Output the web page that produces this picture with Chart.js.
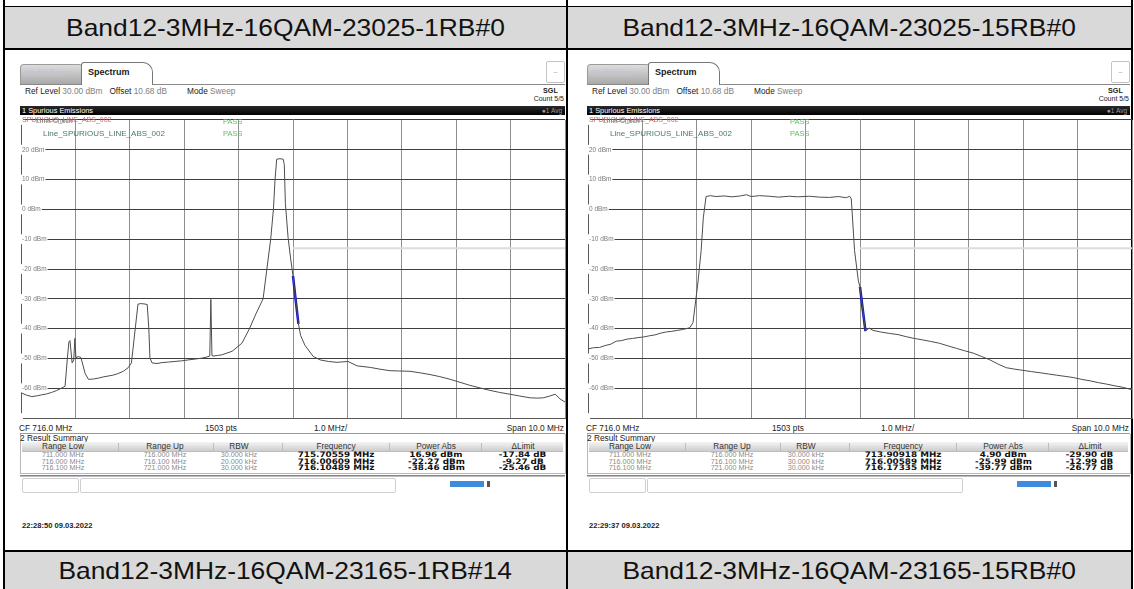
<!DOCTYPE html>
<html><head><meta charset="utf-8">
<script src="https://cdn.jsdelivr.net/npm/chart.js@4.4.1/dist/chart.umd.min.js"></script>
<style>
html,body{margin:0;padding:0;background:#fff;}
body{width:1134px;height:589px;position:relative;overflow:hidden;font-family:"Liberation Sans",Arial,sans-serif;}
.a{position:absolute;white-space:nowrap;}
.blk{position:absolute;background:#000;}
.ttl{position:absolute;text-align:center;font-family:"Liberation Sans",Arial,sans-serif;font-size:24px;color:#111;}
.ttl span{display:inline-block;transform:scaleX(1.1);}
.sm{font-size:8.3px;color:#222;line-height:10px;}
.g{color:#808080;}
.hd{font-size:8.3px;color:#333;text-align:center;line-height:9px;}
.lo{font-size:7.2px;color:#8a8a8a;text-align:center;line-height:7px;}
.bd{font-family:"DejaVu Sans",sans-serif;font-weight:bold;font-size:7.6px;color:#111;text-align:center;line-height:7px;}
.bd span{display:inline-block;transform:scaleX(1.16);}
</style>
</head><body>
<script>
// ---------- data ----------
const titlesTop = ['Band12-3MHz-16QAM-23025-1RB#0', 'Band12-3MHz-16QAM-23025-15RB#0'];
const titlesBottom = ['Band12-3MHz-16QAM-23165-1RB#14', 'Band12-3MHz-16QAM-23165-15RB#0'];
const timestamps = ['22:28:50 09.03.2022', '22:29:37 09.03.2022'];
const yTickValues = [30, 20, 10, 0, -10, -20, -30, -40, -50, -60, -70];
const xGridFreqs = [711, 712, 713, 714, 715, 716, 717, 718, 719, 720, 721];

const summaryHeaders = ['Range Low', 'Range Up', 'RBW', 'Frequency', 'Power Abs', '\u0394Limit'];
const rangeLow = ['711.000 MHz', '716.000 MHz', '716.100 MHz'];
const rangeUp = ['716.000 MHz', '716.100 MHz', '721.000 MHz'];
const rbwA = ['30.000 kHz', '20.000 kHz', '30.000 kHz'];
const rbwB = ['30.000 kHz', '30.000 kHz', '30.000 kHz'];
const peakFreqA = ['715.70559 MHz', '716.00609 MHz', '716.10489 MHz'];
const peakPowA = ['16.96 dBm', '-22.27 dBm', '-38.46 dBm'];
const deltaA = ['-17.84 dB', '-9.27 dB', '-25.46 dB'];
const peakFreqB = ['713.90918 MHz', '716.00589 MHz', '716.17335 MHz'];
const peakPowB = ['4.90 dBm', '-25.99 dBm', '-39.77 dBm'];
const deltaB = ['-29.90 dB', '-12.99 dB', '-26.77 dB'];

const limitFreq = [716.0, 721.0];
const limitPow = [-13, -13];

// trace A (1RB#0)
const freqA = [711.00,711.10,711.20,711.30,711.38,711.47,711.56,711.65,711.75,711.81,711.85,711.88,711.90,711.94,711.97,711.99,712.01,712.05,712.10,712.18,712.24,712.33,712.42,712.51,712.60,712.69,712.78,712.88,712.97,713.03,713.10,713.15,713.20,713.26,713.32,713.35,713.37,713.41,713.50,713.59,713.71,713.83,713.95,714.07,714.20,714.32,714.40,714.47,714.49,714.51,714.53,714.61,714.69,714.88,715.06,715.20,715.32,715.45,715.52,715.59,715.64,715.67,715.70,715.76,715.82,715.84,715.86,715.91,715.96,716.00,716.05,716.10,716.14,716.22,716.37,716.50,716.65,716.81,717.01,717.18,717.42,717.60,717.78,717.96,718.15,718.33,718.52,718.70,718.89,719.07,719.25,719.44,719.62,719.80,719.99,720.17,720.36,720.50,720.60,720.72,720.82,720.91,721.00];
const powA = [-61.5,-62.3,-62.8,-62.5,-62.2,-61.9,-61.4,-60.8,-59.9,-59.3,-50.5,-44.5,-44.0,-51.5,-50.5,-43.3,-49.7,-49.4,-49.6,-55.1,-57.0,-56.9,-56.6,-56.2,-55.9,-55.6,-55.1,-54.3,-53.1,-51.5,-40.0,-31.8,-31.6,-31.7,-31.9,-40.0,-49.8,-51.5,-51.7,-51.4,-51.2,-51.0,-50.8,-50.5,-50.2,-49.9,-49.6,-49.2,-30.2,-49.0,-49.2,-49.0,-48.8,-47.6,-44.9,-40.0,-35.0,-30.0,-20.0,-10.0,0.0,10.0,16.8,17.0,16.8,15.0,2.0,-9.5,-17.0,-22.3,-30.5,-38.4,-42.3,-45.6,-49.3,-50.5,-51.0,-51.3,-51.0,-52.5,-53.0,-53.6,-54.1,-54.2,-54.3,-54.8,-55.4,-56.1,-57.0,-58.0,-59.0,-59.9,-60.7,-61.4,-62.0,-62.6,-63.2,-63.3,-63.2,-62.6,-62.0,-63.6,-64.6];
const blueFreqA = [716.00, 716.05, 716.10];
const bluePowA = [-22.3, -30.5, -38.4];

// trace B (15RB#0)
const freqB = [711.00,711.10,711.21,711.33,711.42,711.52,711.62,711.72,711.82,711.92,712.02,712.13,712.23,712.34,712.44,712.54,712.64,712.74,712.87,712.93,713.02,713.08,713.12,713.17,713.25,713.35,713.50,713.65,713.80,713.91,714.00,714.15,714.33,714.50,714.70,714.85,715.07,715.25,715.44,715.60,715.75,715.81,715.84,715.90,715.97,716.00,716.05,716.10,716.17,716.24,716.40,716.54,716.70,716.85,717.00,717.16,717.30,717.46,717.62,717.77,717.92,718.08,718.23,718.38,718.54,718.69,718.85,719.00,719.15,719.31,719.46,719.61,719.77,719.92,720.07,720.23,720.38,720.53,720.69,720.84,721.00];
const powB = [-46.8,-46.4,-46.3,-45.6,-45.2,-44.2,-44.0,-43.5,-43.3,-43.0,-42.8,-42.4,-42.1,-41.5,-41.1,-40.9,-40.6,-40.3,-39.7,-38.0,-24.7,-13.8,-2.8,4.3,4.6,4.3,4.5,4.2,4.5,4.9,4.3,4.6,4.4,4.1,4.4,4.2,4.4,4.1,4.0,4.3,3.9,4.4,3.5,-13.8,-24.0,-26.0,-33.5,-40.8,-39.8,-40.6,-41.2,-41.6,-42.0,-42.7,-43.3,-43.8,-44.3,-44.9,-45.8,-46.6,-47.4,-48.2,-49.3,-50.4,-51.9,-53.1,-53.6,-54.0,-54.4,-54.8,-55.2,-55.6,-56.0,-56.4,-57.0,-57.5,-58.1,-58.6,-59.2,-59.7,-60.5];
const blueFreqB = [716.00, 716.05, 716.10];
const bluePowB = [-26.0, -33.5, -40.8];

// ---------- page frame ----------
function el(cls, css, text, parent) {
  const d = document.createElement('div');
  d.className = cls;
  d.style.cssText = css;
  if (text !== undefined) d.textContent = text;
  (parent || document.body).appendChild(d);
  return d;
}
function elS(cls, css, text) {
  const d = el(cls, css);
  const s = document.createElement('span'); s.textContent = text; d.appendChild(s);
  return d;
}
el('a', 'left:5px;top:7px;width:1126px;height:41px;background:#d9d9d9;');
el('a', 'left:5px;top:552px;width:1126px;height:37px;background:#d9d9d9;');
el('blk', 'left:3px;top:6px;width:1130px;height:1px;');
el('blk', 'left:3px;top:48px;width:1130px;height:2px;');
el('blk', 'left:3px;top:550px;width:1130px;height:2px;');
el('blk', 'left:3px;top:0;width:2px;height:589px;');
el('blk', 'left:566px;top:0;width:2px;height:589px;');
el('blk', 'left:1131px;top:0;width:2px;height:589px;');

const colX = [5, 568];
const colW = [561, 563];
for (let i = 0; i < 2; i++) {
  elS('ttl', `left:${colX[i]}px;top:7px;width:${colW[i]}px;height:41px;line-height:42px;`, titlesTop[i]);
  elS('ttl', `left:${colX[i]}px;top:552px;width:${colW[i]}px;height:37px;line-height:38px;`, titlesBottom[i]);
}

// ---------- screenshot panels ----------
function panel(ox, re, idx, rbw, pf, pp, dl, freq, pow, bf, bp) {
  // re = right edge x of the screenshot content
  el('a', `left:${ox+20}px;top:64px;width:61px;height:19px;background:linear-gradient(#dcdcdc,#a9a9a9);border:1px solid #9a9a9a;border-bottom:none;border-radius:4px 4px 0 0;`);
  el('a', `left:${ox+26}px;top:68px;font-size:8.5px;font-weight:bold;color:#c9c3d3;`, 'MultiView');
  el('a', `left:${ox+20}px;top:84px;width:${re-ox-20}px;height:1px;background:#8a8a8a;`);
  el('a', `left:${ox+81}px;top:62px;width:70px;height:22px;background:#fff;border:1px solid #777;border-bottom:none;border-radius:3px 10px 0 0;`);
  el('a', `left:${ox+88}px;top:67px;font-size:9px;font-weight:bold;color:#1a1a1a;`, 'Spectrum');
  el('a', `left:${re-19}px;top:61px;width:17px;height:20px;border:1px solid #c4c4c4;border-radius:2px;font-size:7px;color:#aaa;text-align:center;line-height:20px;`, '\u2013');
  const info = el('a sm', `left:${ox+25}px;top:86px;`);
  info.innerHTML = 'Ref Level <span class="g">30.00 dBm</span>&nbsp;&nbsp;&nbsp;Offset <span class="g">10.68 dB</span>';
  const mode = el('a sm', `left:${ox+187}px;top:86px;`);
  mode.innerHTML = 'Mode <span class="g">Sweep</span>';
  el('a sm', `left:${re-22}px;top:86px;font-weight:bold;font-size:7.2px;`, 'SGL');
  el('a sm', `left:${re-66}px;top:94px;width:65px;text-align:right;font-size:7px;`, 'Count 5/5');
  // black title bar
  el('a', `left:${ox+20}px;top:106px;width:${re-ox-20}px;height:9px;background:linear-gradient(#2a2a2a,#000);`);
  el('a', `left:${ox+22}px;top:105.5px;font-size:7.4px;color:#fff;line-height:10px;`, '1 Spurious Emissions');
  el('a', `left:${re-66}px;top:106px;width:63px;text-align:right;font-size:6.5px;color:#9a9a9a;line-height:10px;`, '\u25CF1 Avg');
  // plot canvas
  const cv = document.createElement('canvas');
  cv.width = 546; cv.height = 308;
  cv.style.cssText = `position:absolute;left:${ox+20}px;top:115px;width:546px;height:308px;`;
  document.body.appendChild(cv);
  // limit legend overlays
  el('a', `left:${ox+22}px;top:116px;font-size:7px;color:#c86a6a;line-height:8px;`, 'SPURIOUS_LINE_ABS_002');
  el('a', `left:${ox+36}px;top:117px;font-size:7px;color:#7a7a7a;line-height:8px;`, 'Limit Check');
  el('a', `left:${ox+223}px;top:118px;font-size:7.5px;color:#5fbf5f;line-height:8px;`, 'PASS');
  el('a', `left:${ox+43}px;top:129px;font-size:8px;color:#4a7a6a;line-height:9px;`, 'Line_SPURIOUS_LINE_ABS_002');
  el('a', `left:${ox+223}px;top:129px;font-size:7.5px;color:#5fbf5f;line-height:9px;`, 'PASS');
  // bottom info row
  el('a sm', `left:${ox+19}px;top:423px;`, 'CF 716.0 MHz');
  el('a sm', `left:${ox+205}px;top:423px;`, '1503 pts');
  el('a sm', `left:${ox+314}px;top:423px;`, '1.0 MHz/');
  el('a sm', `left:${re-166}px;top:423px;width:165px;text-align:right;`, 'Span 10.0 MHz');
  el('a', `left:${ox+20}px;top:433px;width:${re-ox-20}px;height:1px;background:#9a9a9a;`);
  // result summary
  el('a', `left:${ox+20}px;top:434px;width:${re-ox-21}px;height:39px;border:1px solid #b8b8b8;border-top:none;`);
  el('a sm', `left:${ox+20}px;top:433px;`, '2 Result Summary');
  el('a', `left:${ox+22}px;top:442px;width:${re-ox-24}px;height:9px;background:linear-gradient(#f4f4f4,#cdcdcd);border-bottom:1px solid #bdbdbd;`);
  const cx = [63, 165, 239, 336, 436, 523];
  const sep = [118, 213, 282, 389, 481];
  sep.forEach(s => el('a', `left:${ox+s}px;top:443px;width:1px;height:8px;background:#bdbdbd;`));
  summaryHeaders.forEach((h, k) => el('a hd', `left:${ox+cx[k]-45}px;top:442px;width:90px;`, h));
  const rowsY = [451, 457.5, 464];
  for (let r = 0; r < 3; r++) {
    el('a lo', `left:${ox+cx[0]-45}px;top:${rowsY[r]}px;width:90px;`, rangeLow[r]);
    el('a lo', `left:${ox+cx[1]-45}px;top:${rowsY[r]}px;width:90px;`, rangeUp[r]);
    el('a lo', `left:${ox+cx[2]-45}px;top:${rowsY[r]}px;width:90px;`, rbw[r]);
    elS('a bd', `left:${ox+cx[3]-60}px;top:${rowsY[r]}px;width:120px;`, pf[r]);
    elS('a bd', `left:${ox+cx[4]-50}px;top:${rowsY[r]}px;width:100px;`, pp[r]);
    elS('a bd', `left:${ox+cx[5]-50}px;top:${rowsY[r]}px;width:100px;`, dl[r]);
  }
  // status row
  el('a', `left:${ox+20}px;top:475px;width:${re-ox-20}px;height:2px;background:linear-gradient(#6a6a6a,#d8d8d8);`);
  el('a', `left:${ox+22}px;top:478px;width:55px;height:13px;border:1px solid #cfcfcf;border-radius:2px;`);
  el('a', `left:${ox+80}px;top:478px;width:314px;height:13px;border:1px solid #cfcfcf;border-radius:2px;`);
  el('a', `left:${ox+450}px;top:481px;width:34px;height:6px;background:#3d8ae0;`);
  el('a', `left:${ox+487}px;top:481px;width:3px;height:6px;background:#555;`);
  el('a', `left:${ox+22}px;top:521px;font-size:7.6px;font-weight:bold;color:#222;line-height:10px;`, timestamps[idx]);

  const pts = (xs, ys) => xs.map((x, i) => ({x: x, y: ys[i]}));
  new Chart(cv, {
    type: 'line',
    data: { datasets: [
      { data: pts(limitFreq, limitPow), borderColor: '#dcdcdc', borderWidth: 2, pointRadius: 0, tension: 0 },
      { data: pts(freq, pow), borderColor: '#4d4d4d', borderWidth: 1, pointRadius: 0, tension: 0 },
      { data: pts(bf, bp), borderColor: '#1414c8', borderWidth: 2.5, pointRadius: 0, tension: 0 }
    ]},
    options: {
      responsive: false, animation: false, devicePixelRatio: 1,
      layout: { padding: { left: 1, right: 1, top: 1, bottom: 1 } },
      plugins: { legend: { display: false }, tooltip: { enabled: false } },
      scales: {
        x: {
          type: 'linear', min: 711, max: 721,
          afterBuildTicks: s => { s.ticks = xGridFreqs.map(v => ({ value: v })); },
          ticks: { display: false },
          grid: { color: '#8e8e8e', lineWidth: 1, drawTicks: false },
          border: { display: true, color: '#5a5a5a' },
          afterFit: s => { s.height = 0; }
        },
        y: {
          type: 'linear', min: -70, max: 30,
          afterBuildTicks: s => { s.ticks = yTickValues.map(v => ({ value: v })); },
          ticks: {
            mirror: true, padding: 1, color: '#7a7a7a',
            font: { size: 6.5, family: 'Liberation Sans' },
            showLabelBackdrop: true, backdropColor: '#ffffff', backdropPadding: 1,
            callback: v => (v === 30 || v === -70) ? '' : v + ' dBm'
          },
          grid: { color: '#3e3e3e', lineWidth: 1, drawTicks: false },
          border: { display: true, color: '#5a5a5a' },
          afterFit: s => { s.width = 0; }
        }
      }
    }
  });
}
panel(0, 565, 0, rbwA, peakFreqA, peakPowA, deltaA, freqA, powA, blueFreqA, bluePowA);
panel(567, 1130, 1, rbwB, peakFreqB, peakPowB, deltaB, freqB, powB, blueFreqB, bluePowB);
</script>
</body></html>
